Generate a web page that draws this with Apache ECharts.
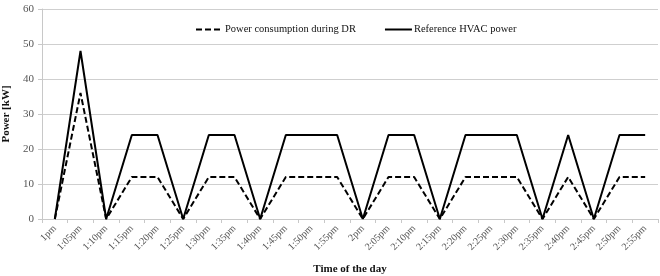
<!DOCTYPE html>
<html><head><meta charset="utf-8">
<script src="https://cdn.jsdelivr.net/npm/echarts@6/dist/echarts.min.js"></script>
<style>html,body{margin:0;padding:0;background:#fff}#c{width:660px;height:276px}</style>
</head><body><div id="c"></div>
<script>
const categories = ["1pm","1:05pm","1:10pm","1:15pm","1:20pm","1:25pm","1:30pm","1:35pm","1:40pm","1:45pm","1:50pm","1:55pm","2pm","2:05pm","2:10pm","2:15pm","2:20pm","2:25pm","2:30pm","2:35pm","2:40pm","2:45pm","2:50pm","2:55pm"];
const drPower = [0,36,0,12,12,0,12,12,0,12,12,12,0,12,12,0,12,12,12,0,12,0,12,12];
const refPower = [0,48,0,24,24,0,24,24,0,24,24,24,0,24,24,0,24,24,24,0,24,0,24,24];
const seriesNames = ["Power consumption during DR","Reference HVAC power"];

const font = "'Liberation Serif', 'Times New Roman', serif";
const chart = echarts.init(document.getElementById('c'));
chart.setOption({
  animation: false,
  textStyle: {fontFamily: font},
  grid: {left: 42, right: 2, top: 9, bottom: 57, containLabel: false, outerBoundsMode: 'none'},
  legend: {
    top: 19, left: 190, itemWidth: 27, itemHeight: 10, itemGap: 28,
    itemStyle: {opacity: 0},
    textStyle: {fontFamily: font, fontSize: 10.5, color: '#111', padding: [0,0,0,-3]},
    data: seriesNames
  },
  xAxis: {
    type: 'category', data: categories, boundaryGap: true,
    name: 'Time of the day', nameLocation: 'middle', nameGap: 45,
    nameTextStyle: {fontFamily: font, fontWeight: 'bold', fontSize: 11, color: '#111'},
    axisLine: {lineStyle: {color: '#c8c8c8'}},
    axisTick: {show: true, length: 4, lineStyle: {color: '#c8c8c8'}},
    axisLabel: {rotate: 45, fontSize: 10, color: '#555', fontFamily: font, margin: 8}
  },
  yAxis: {
    type: 'value', min: 0, max: 60, interval: 10,
    name: 'Power [kW]', nameLocation: 'middle', nameGap: 29, nameRotate: 90,
    nameTextStyle: {fontFamily: font, fontWeight: 'bold', fontSize: 11, color: '#111'},
    axisLine: {show: true, lineStyle: {color: '#c8c8c8'}},
    axisTick: {show: true, length: 4, lineStyle: {color: '#c8c8c8'}},
    splitLine: {lineStyle: {color: '#cfcfcf'}},
    axisLabel: {fontSize: 11, color: '#555', fontFamily: font, margin: 8}
  },
  series: [
    {name: seriesNames[0], type: 'line', data: drPower, symbol: 'none',
     lineStyle: {color: '#000', width: 2, type: [6,3]}, itemStyle: {color: '#000'}},
    {name: seriesNames[1], type: 'line', data: refPower, symbol: 'none',
     lineStyle: {color: '#000', width: 2}, itemStyle: {color: '#000'}}
  ]
});
</script></body></html>
